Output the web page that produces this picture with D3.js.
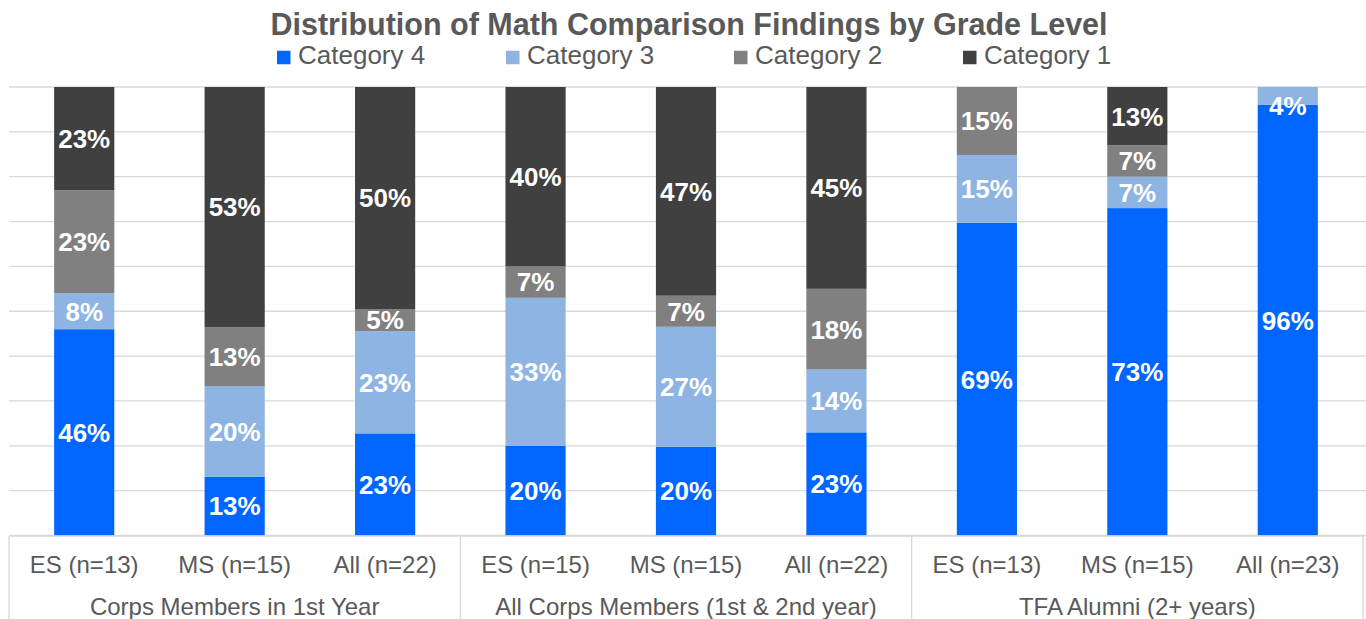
<!DOCTYPE html>
<html>
<head>
<meta charset="utf-8">
<script src="https://cdn.jsdelivr.net/npm/d3@7"></script>
<style>
  html, body { margin: 0; padding: 0; background: #fff; }
  svg { display: block; font-family: "Liberation Sans", Arial, sans-serif; }
</style>
</head>
<body>
<svg id="chart" width="1366" height="619"></svg>
<script>
// Chart data
const groups = ["Corps Members in 1st Year", "All Corps Members (1st & 2nd year)", "TFA Alumni (2+ years)"];
const levels = ["ES (n=13)", "MS (n=15)", "All (n=22)", "ES (n=15)", "MS (n=15)", "All (n=22)", "ES (n=13)", "MS (n=15)", "All (n=23)"];
const seriesNames = ["Category 4", "Category 3", "Category 2", "Category 1"];
const cat4 = [46, 13, 23, 20, 20, 23, 69, 73, 96];
const cat3 = [8, 20, 23, 33, 27, 14, 15, 7, 4];
const cat2 = [23, 13, 5, 7, 7, 18, 15, 7, 0];
const cat1 = [23, 53, 50, 40, 47, 45, 0, 13, 0];
const colors = ["#0066ff", "#8eb4e3", "#808080", "#404040"];

const width = 1366, height = 619;
const plotLeft = 9, plotRight = 1363, plotTop = 87, plotBottom = 535.5;

const svg = d3.select("#chart");

// Build rows for stacking
const rows = levels.map((lvl, i) => ({
  idx: i,
  "Category 4": cat4[i],
  "Category 3": cat3[i],
  "Category 2": cat2[i],
  "Category 1": cat1[i]
}));

const stack = d3.stack().keys(seriesNames).offset(d3.stackOffsetExpand);
const stacked = stack(rows);

const x = d3.scaleBand()
  .domain(levels.map((d, i) => i))
  .range([plotLeft, plotRight])
  .paddingInner(0.6)
  .paddingOuter(0.3);

const y = d3.scaleLinear().domain([0, 1]).range([plotBottom, plotTop]);

// Gridlines
svg.append("g")
  .selectAll("line")
  .data(d3.range(0, 1.0001, 0.1))
  .join("line")
  .attr("x1", plotLeft).attr("x2", width)
  .attr("y1", d => y(d)).attr("y2", d => y(d))
  .attr("stroke", "#d9d9d9")
  .attr("stroke-width", 1.3);

// Bars
const layer = svg.append("g")
  .selectAll("g")
  .data(stacked)
  .join("g")
  .attr("fill", (d, i) => colors[i]);

layer.selectAll("rect")
  .data(d => d)
  .join("rect")
  .attr("x", d => x(d.data.idx))
  .attr("width", x.bandwidth())
  .attr("y", d => y(d[1]))
  .attr("height", d => y(d[0]) - y(d[1]));

// Data labels (skip zero segments, keep inside plot top)
const labels = svg.append("g");
stacked.forEach(s => {
  s.forEach(d => {
    const v = d.data[s.key];
    if (!v) return;
    let cy = (y(d[0]) + y(d[1])) / 2;
    cy = Math.max(cy, plotTop + 19);
    labels.append("text")
      .attr("x", x(d.data.idx) + x.bandwidth() / 2)
      .attr("y", cy)
      .attr("dy", "0.36em")
      .attr("text-anchor", "middle")
      .attr("fill", "#fff")
      .attr("font-weight", "bold")
      .attr("font-size", 26)
      .text(v + "%");
  });
});

// Category axis (two-level)
const axisY = 536;
const axis = svg.append("g").attr("stroke", "#d9d9d9").attr("stroke-width", 1.3);
axis.append("line")
  .attr("x1", plotLeft).attr("x2", plotRight)
  .attr("y1", axisY).attr("y2", axisY);

const groupWidth = (plotRight - plotLeft) / groups.length;
axis.selectAll("line.div")
  .data(d3.range(groups.length + 1))
  .join("line")
  .attr("class", "div")
  .attr("x1", i => plotLeft + i * groupWidth).attr("x2", i => plotLeft + i * groupWidth)
  .attr("y1", axisY).attr("y2", height);

svg.append("g")
  .selectAll("text")
  .data(levels)
  .join("text")
  .attr("x", (d, i) => x(i) + x.bandwidth() / 2)
  .attr("y", 564)
  .attr("dy", "0.36em")
  .attr("text-anchor", "middle")
  .attr("fill", "#595959")
  .attr("font-size", 24)
  .text(d => d);

svg.append("g")
  .selectAll("text")
  .data(groups)
  .join("text")
  .attr("x", (d, i) => plotLeft + (i + 0.5) * groupWidth)
  .attr("y", 606)
  .attr("dy", "0.36em")
  .attr("text-anchor", "middle")
  .attr("fill", "#595959")
  .attr("font-size", 24)
  .text(d => d);

// Title
svg.append("text")
  .attr("x", 689)
  .attr("y", 34.5)
  .attr("text-anchor", "middle")
  .attr("fill", "#595959")
  .attr("font-weight", "bold")
  .attr("font-size", 30.5)
  .text("Distribution of Math Comparison Findings by Grade Level");

// Legend
const legendX = [277, 506, 734, 963];
const legend = svg.append("g")
  .selectAll("g")
  .data(seriesNames)
  .join("g")
  .attr("transform", (d, i) => `translate(${legendX[i]},57.5)`);

legend.append("rect")
  .attr("x", 0).attr("y", -6.75)
  .attr("width", 13.5).attr("height", 13.5)
  .attr("fill", (d, i) => colors[i]);

legend.append("text")
  .attr("x", 21)
  .attr("y", 6.8)
  .attr("fill", "#595959")
  .attr("font-size", 26)
  .text(d => d);
</script>
</body>
</html>
